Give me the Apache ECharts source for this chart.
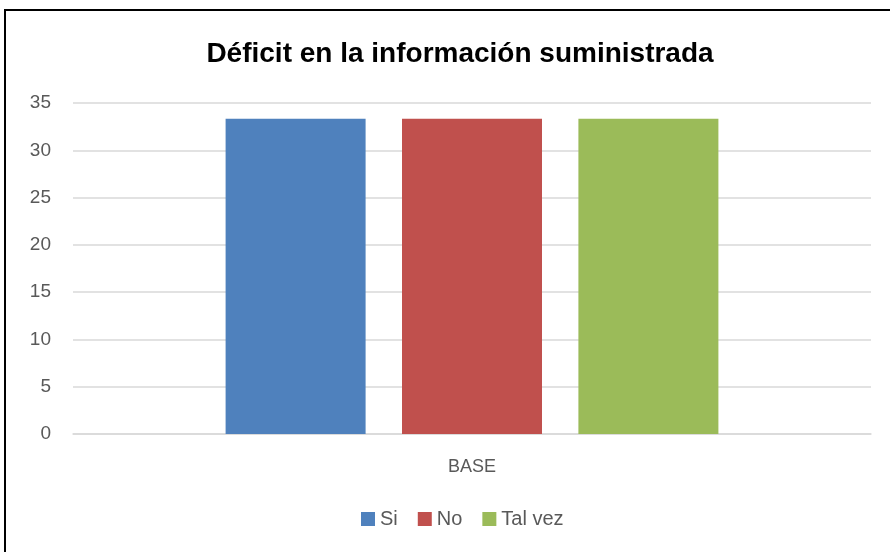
<!DOCTYPE html>
<html><head><meta charset="utf-8">
<script src="https://cdn.jsdelivr.net/npm/echarts@6/dist/echarts.min.js"></script>
<style>html,body{margin:0;padding:0;background:#fff}#c{width:890px;height:552px}</style>
</head><body><div id="c"></div>
<script>
const categories = ['BASE'];
const seriesNames = ['Si', 'No', 'Tal vez'];
const siValues = [33.33];
const noValues = [33.33];
const talVezValues = [33.33];
const yTicks = [0, 5, 10, 15, 20, 25, 30, 35];
const colors = ['#4F81BD', '#C0504D', '#9BBB59'];
const font = '"Liberation Sans", Arial, sans-serif';
const chart = echarts.init(document.getElementById('c'), null, {renderer: 'canvas'});
const valuesList = [siValues, noValues, talVezValues];
chart.setOption({
  animation: false,
  title: {text: 'Déficit en la información suministrada', left: 455, top: 35, textAlign: 'center',
    textStyle: {fontFamily: font, fontWeight: 'bold', fontSize: 28, color: '#000'}},
  graphic: [{type: 'rect', shape: {x: 5, y: 10, width: 900, height: 600}, style: {fill: 'none', stroke: '#000', lineWidth: 2}, z: 100}],
  grid: {left: 73, right: 19, top: 103, bottom: 118},
  legend: {bottom: 18, left: 356, itemWidth: 14, itemHeight: 14, itemGap: 20, icon: 'rect',
    textStyle: {fontFamily: font, fontSize: 20, color: '#595959'}, data: seriesNames},
  xAxis: {type: 'category', data: categories, axisLine: {show: true, lineStyle: {color: '#d9d9d9', width: 1.5}},
    axisTick: {show: false}, axisLabel: {fontFamily: font, fontSize: 18, color: '#595959', margin: 24}},
  yAxis: {type: 'value', min: yTicks[0], max: yTicks[yTicks.length - 1], interval: 5,
    axisLine: {show: false}, axisTick: {show: false},
    axisLabel: {fontFamily: font, fontSize: 19, color: '#595959', margin: 22},
    splitLine: {lineStyle: {color: '#d9d9d9', width: 1.5}}},
  series: seriesNames.map((n, i) => ({name: n, type: 'bar', data: valuesList[i], barWidth: 140, barGap: '26%',
    itemStyle: {color: colors[i]}}))
});
</script></body></html>
